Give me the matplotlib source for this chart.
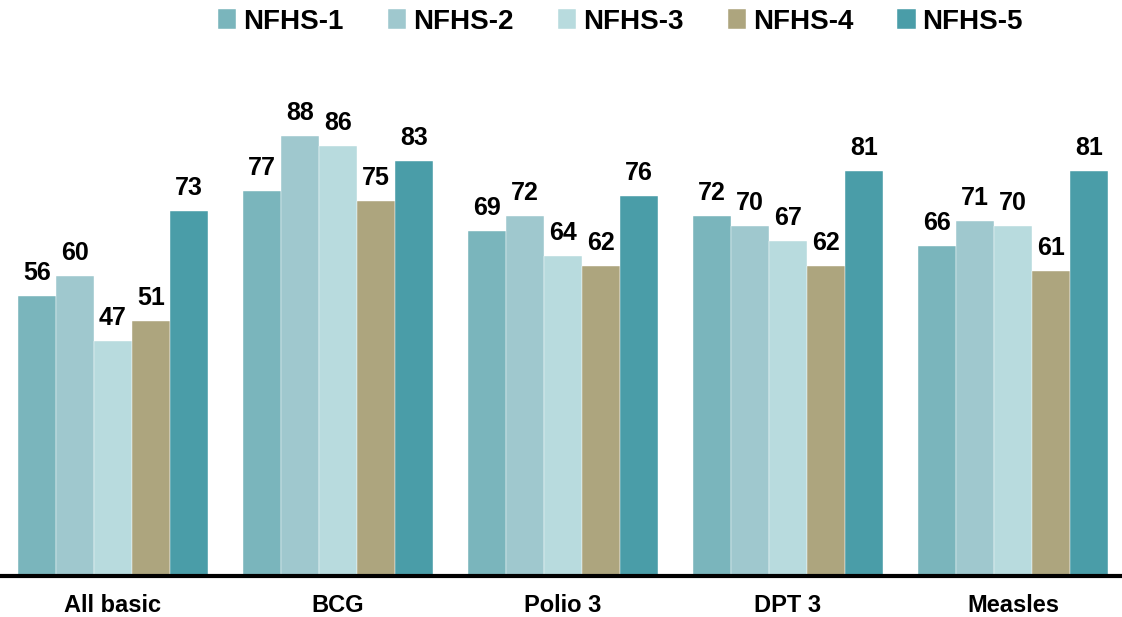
import matplotlib
matplotlib.use("Agg")
import matplotlib.pyplot as plt
import numpy as np

categories = ["All basic", "BCG", "Polio 3", "DPT 3", "Measles"]
series = ["NFHS-1", "NFHS-2", "NFHS-3", "NFHS-4", "NFHS-5"]
nfhs1 = [56, 77, 69, 72, 66]
nfhs2 = [60, 88, 72, 70, 71]
nfhs3 = [47, 86, 64, 67, 70]
nfhs4 = [51, 75, 62, 62, 61]
nfhs5 = [73, 83, 76, 81, 81]
values = [nfhs1, nfhs2, nfhs3, nfhs4, nfhs5]
colors = ["#7AB5BC", "#9FC8CE", "#B8DBDE", "#ADA57E", "#4A9DA8"]

plt.rcParams['font.family'] = ['Liberation Sans', 'DejaVu Sans']

fig = plt.figure(figsize=(11.22, 6.17), dpi=100)
ax = fig.add_axes([2/1122, (617-576)/617, 1120/1122, 500/617])

x = np.arange(len(categories))
bw = 0.169
for i, (name, vals, c) in enumerate(zip(series, values, colors)):
    pos = x + (i - 2) * bw
    bars = ax.bar(pos, vals, width=bw, color=c, edgecolor="white", linewidth=0.3, label=name)
    for b, v in zip(bars, vals):
        ax.annotate(str(v), (b.get_x() + b.get_width()/2, v), xytext=(0, 8),
                    textcoords="offset points", ha="center", va="bottom",
                    fontsize=18, fontweight="bold", color="black")

ax.set_xlim(-0.493, 4.485)
ax.set_ylim(0, 100)
for s in ["top", "right", "left"]:
    ax.spines[s].set_visible(False)
ax.spines["bottom"].set_linewidth(3)
ax.spines["bottom"].set_color("black")
ax.set_yticks([])
ax.set_xticks(x)
ax.set_xticklabels(categories, fontsize=17, fontweight="bold")
ax.tick_params(axis="x", length=0, pad=13)

leg = fig.legend(loc="upper center", bbox_to_anchor=(0.553, 1.026), ncol=5, frameon=False,
                 prop={"size": 20, "weight": "bold"}, handlelength=0.65, handleheight=0.75,
                 handletextpad=0.25, columnspacing=1.6)

fig.savefig("out.png", dpi=100)
